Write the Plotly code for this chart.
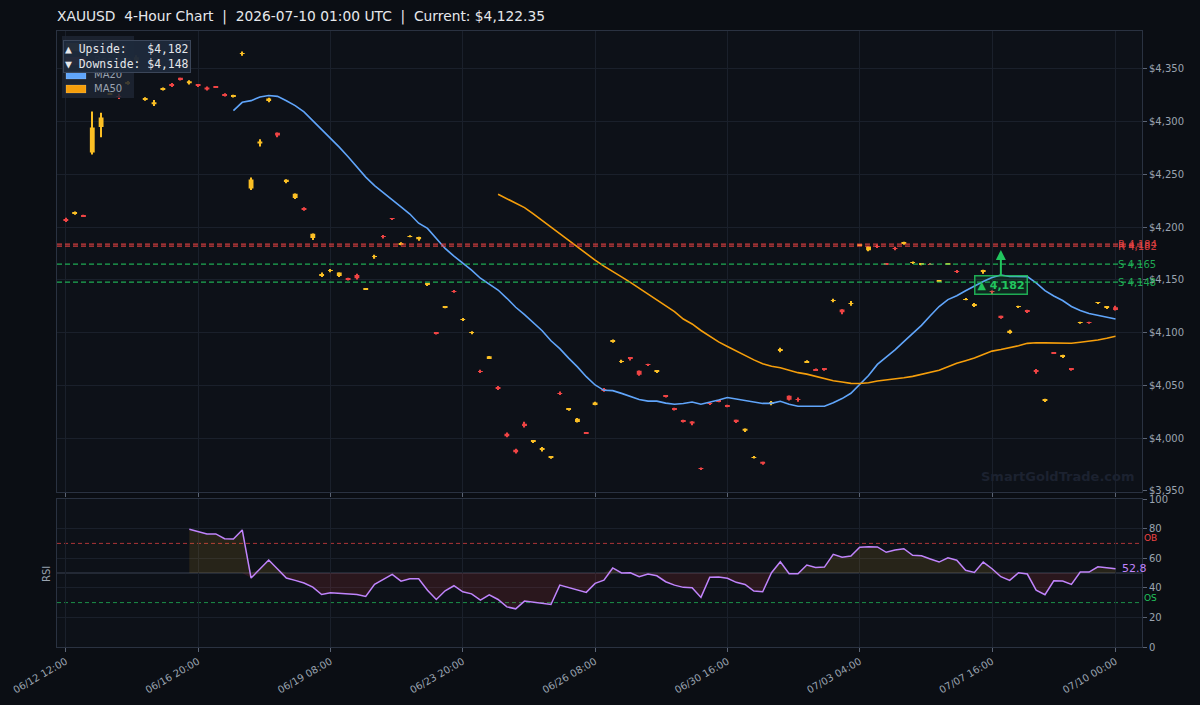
import pandas as pd
import plotly.graph_objects as go

# ---------------- data ----------------
opens = [4207.5, 4212.9, 4211.5, 4270.8, 4295, 4326, 4324.2, 4336.6, 4358, 4321.5,
         4316.6, 4330.9, 4335.4, 4341.6, 4336.4, 4335, 4332.4, 4333.5, 4325.5, 4324,
         4364.4, 4236.8, 4279.3, 4320.4, 4289.5, 4242.9, 4227.6, 4218, 4189.7, 4154.7,
         4158.8, 4153.8, 4151.8, 4154.8, 4141.4, 4171.9, 4191.1, 4208.1, 4184, 4191.3,
         4188.5, 4145.3, 4099.8, 4124.3, 4139.4, 4112.4, 4099.9, 4063.5, 4076, 4047.7,
         4004.2, 3989, 4013.8, 3996.5, 3989, 3981.5, 4042.7, 4027.4, 4015.4, 4005.1,
         4031.6, 4046.2, 4091.1, 4072.7, 4076.9, 4064, 4070.3, 4063, 4040.8, 4028.6,
         4017.3, 4015.9, 3971.1, 4032.8, 4035.5, 4030.9, 4017.4, 4007, 3981.8, 3977.6,
         4032.5, 4082.7, 4040.3, 4036.6, 4071.8, 4065.5, 4066, 4130.4, 4122.1, 4127.6,
         4182.8, 4178.1, 4182.1, 4165.5, 4179.8, 4184.3, 4166.4, 4164.8, 4165, 4149,
         4164.6, 4158.1, 4131.7, 4126.2, 4157.7, 4139, 4116, 4100.2, 4124.4, 4121.6,
         4063.8, 4035.7, 4081.5, 4076.9, 4065.7, 4109.5, 4109.7, 4128.2, 4123.7, 4124.2]
highs = [4209, 4215, 4211.8, 4309.6, 4308.6, 4327.5, 4326.5, 4338.5, 4363, 4323.2,
         4320.5, 4332.5, 4336.6, 4341.8, 4339.3, 4335.2, 4333.4, 4333.7, 4327, 4325.5,
         4366.5, 4247.2, 4283.3, 4322.7, 4289.7, 4245.5, 4231.9, 4219, 4194.1, 4157,
         4160.5, 4157.1, 4152, 4156, 4142.5, 4173.8, 4192.7, 4208.8, 4185.8, 4192.4,
         4190.9, 4146.4, 4100.3, 4125.4, 4140.5, 4114, 4101.5, 4065, 4078, 4049.5,
         4005.5, 3990, 4015.6, 3998, 3991.7, 3983, 4044.2, 4028.5, 4019.2, 4006,
         4034.5, 4047.5, 4093.6, 4074.4, 4077.1, 4064.2, 4070.5, 4064.1, 4041, 4028.8,
         4017.5, 4016.1, 3972.2, 4034, 4036, 4031.7, 4017.6, 4009.1, 3983.2, 3977.8,
         4035.2, 4085.8, 4040.5, 4038.5, 4073.8, 4066, 4066.2, 4132.2, 4122.3, 4130,
         4183.6, 4182, 4183.6, 4165.6, 4181.4, 4186.2, 4167.4, 4165.9, 4165.2, 4150,
         4165.4, 4159.5, 4132.8, 4128.2, 4159.8, 4140, 4116.2, 4102.7, 4125.5, 4121.8,
         4065.5, 4037.5, 4081.8, 4079, 4066, 4110.5, 4110.5, 4129.2, 4124.7, 4125.5]
lows = [4205, 4211.8, 4209.8, 4269, 4285.3, 4325.5, 4321.5, 4335, 4356, 4320,
        4314.8, 4329.5, 4333, 4339, 4335.3, 4332.8, 4329.5, 4332, 4323.8, 4323,
        4362.5, 4235.2, 4276.6, 4318.5, 4285.3, 4241.7, 4226.8, 4215.5, 4188, 4152.8,
        4157.3, 4152.8, 4149.6, 4150.5, 4140.5, 4170.2, 4189.4, 4207.2, 4182.9, 4190.4,
        4187.2, 4144.6, 4098.3, 4123.2, 4138, 4111, 4098.6, 4061.8, 4075, 4045.7,
        4000.8, 3985.6, 4010.2, 3995.5, 3987.3, 3980.5, 4041, 4026, 4015, 4004,
        4031.2, 4044, 4090.6, 4071.2, 4073.6, 4059.2, 4068.7, 4062.4, 4038.5, 4026.2,
        4014.9, 4012.3, 3969.9, 4031.6, 4034, 4029.4, 4014.4, 4006, 3980.8, 3974.8,
        4031.2, 4081.6, 4035.8, 4034.5, 4071.5, 4063.8, 4063.9, 4128.8, 4117.6, 4125.5,
        4182.6, 4177.3, 4180.3, 4164.9, 4178.1, 4183.5, 4165.6, 4164, 4164.2, 4148.8,
        4164.4, 4156.6, 4130.8, 4124.4, 4155.8, 4136.6, 4113.2, 4099, 4124, 4118.8,
        4061, 4034.3, 4080, 4076, 4064, 4108.6, 4108.6, 4127.4, 4122.9, 4121]
closes = [4206.3, 4213.9, 4210.6, 4294.5, 4304, 4327, 4324, 4336.8, 4361, 4321.7,
          4318.5, 4331.1, 4334.5, 4340, 4338.3, 4334.2, 4330.5, 4332.6, 4325.3, 4325,
          4364.6, 4245.3, 4281.3, 4322, 4287, 4244.9, 4231.7, 4216.5, 4193.9, 4154.9,
          4159, 4157, 4150.9, 4151.6, 4142.3, 4172.1, 4190.9, 4207.9, 4185, 4191.5,
          4190.7, 4146.2, 4098.9, 4125.2, 4139.2, 4112.6, 4100.1, 4063.3, 4077.8, 4047.5,
          4001.8, 3986.8, 4011.5, 3997.6, 3990.2, 3982.5, 4042.5, 4028.3, 4018.5, 4004.9,
          4033.8, 4045.2, 4093, 4072.9, 4075, 4060.1, 4069.5, 4063.9, 4039.9, 4026.8,
          4015.5, 4014, 3970.9, 4032.6, 4034.6, 4030, 4015.4, 4008.9, 3982, 3975.7,
          4034.3, 4084.6, 4036.5, 4036.4, 4073.3, 4064.3, 4065.2, 4130.6, 4119.5, 4127.8,
          4183.4, 4181.8, 4181.9, 4165, 4179.6, 4185.8, 4166.6, 4165.7, 4164.4, 4149.8,
          4165.2, 4157.9, 4131.9, 4126.4, 4158.6, 4138.6, 4114.2, 4101.9, 4125.3, 4120.2,
          4062.8, 4036.8, 4080.6, 4078.8, 4064.9, 4109.7, 4109.5, 4129, 4124.5, 4122.35]

rsi_values = [None] * 14 + [
    79.6, 78.0, 76.4, 76.4, 73.2, 73.0, 79.1,
    46.6, 52.7, 58.8, 52.7, 46.6, 45.0, 43.2, 40.5, 35.5, 36.6,
    36.2, 35.5, 35.5, 34.2, 42.3, 45.7, 49.1, 44.5, 46.1, 46.1,
    38.4, 32.1, 38.0, 41.4, 37.3, 35.9, 31.7, 35.3, 32.1, 27.1,
    25.8, 31.0, 30.1, 29.4, 28.7, 41.8, 40.3, 38.4, 36.9, 43.0,
    45.2, 53.4, 50.0, 50.2, 47.5, 49.3, 48.1, 44.1, 41.8, 40.3,
    40.0, 33.5, 47.1, 47.3, 46.4, 43.7, 42.3, 37.8, 37.3, 50.2,
    57.6, 49.5, 49.5, 55.4, 53.8, 54.0, 62.6, 60.6, 61.5, 67.4,
    67.8, 67.6, 64.0, 65.6, 66.4, 62.0, 61.7, 59.5, 57.4, 60.3,
    58.6, 51.8, 50.4, 57.4, 52.9, 47.5, 45.0, 50.2, 49.3, 38.4,
    35.3, 44.7, 44.6, 42.3, 50.6, 50.6, 54.2, 53.6, 52.8]

tick_index = [0, 15, 30, 45, 60, 75, 90, 105, 119]
tick_labels = ["06/12 12:00", "06/16 20:00", "06/19 08:00", "06/23 20:00", "06/26 08:00",
               "06/30 16:00", "07/03 04:00", "07/07 16:00", "07/10 00:00"]

levels = [4184, 4182, 4165, 4148]
level_kinds = ["R", "R", "S", "S"]
upside_target = 4182
downside_target = 4148
current_price = 4122.35
ob_level, os_level, mid_level = 70, 30, 50
legend_names = ["Bullish", "Bearish", "MA20", "MA50"]

# ---------------- styling ----------------
BG = "#0b0e14"
PLOT_BG = "#0d1118"
GRID = "#1a202b"
SPINE = "#2a3241"
TXT = "#9aa3b0"
BULL = "#fbbf24"
BEAR = "#ef4444"
MA20_C = "#60a5fa"
MA50_C = "#f59e0b"
RSI_C = "#c084fc"
FONT = "DejaVu Sans"
W, H = 1200, 705
ML, MR, MT, MB = 57, 58, 31, 58
PW, PH = W - ML - MR, H - MT - MB


def px_x(px):
    return (px - ML) / PW


def px_y(py):
    return (H - MB - py) / PH


idx = list(range(len(closes)))
close_s = pd.Series(closes)
ma20 = close_s.rolling(20).mean()
ma50 = close_s.rolling(50).mean()

up = [i for i in idx if closes[i] >= opens[i]]
dn = [i for i in idx if closes[i] < opens[i]]

fig = go.Figure()

for sel, col, name in [(up, BULL, "Bullish"), (dn, BEAR, "Bearish")]:
    fig.add_trace(go.Bar(
        x=sel, y=[highs[i] - lows[i] for i in sel], base=[lows[i] for i in sel],
        width=0.13, marker=dict(color=col, line=dict(width=0)),
        showlegend=False, hoverinfo="skip", xaxis="x", yaxis="y"))
for sel, col, name in [(up, BULL, "Bullish"), (dn, BEAR, "Bearish")]:
    fig.add_trace(go.Bar(
        x=sel, y=[abs(closes[i] - opens[i]) for i in sel],
        base=[min(opens[i], closes[i]) for i in sel],
        width=0.55, marker=dict(color=col, line=dict(width=0)),
        name=name, showlegend=False, xaxis="x", yaxis="y"))

fig.add_trace(go.Scatter(x=idx, y=ma20, mode="lines", name="MA20", showlegend=False,
                         line=dict(color=MA20_C, width=1.6), xaxis="x", yaxis="y"))
fig.add_trace(go.Scatter(x=idx, y=ma50, mode="lines", name="MA50", showlegend=False,
                         line=dict(color=MA50_C, width=1.6), xaxis="x", yaxis="y"))

# RSI fills
r_idx = [i for i in idx if rsi_values[i] is not None]
r_vals = [rsi_values[i] for i in r_idx]
base_line = [mid_level] * len(r_idx)
upper = [max(v, mid_level) for v in r_vals]
lower = [min(v, mid_level) for v in r_vals]
fig.add_trace(go.Scatter(x=r_idx, y=base_line, mode="lines", line=dict(width=0),
                         showlegend=False, hoverinfo="skip", xaxis="x2", yaxis="y2"))
fig.add_trace(go.Scatter(x=r_idx, y=upper, mode="lines", line=dict(width=0),
                         fill="tonexty", fillcolor="rgba(251,191,36,0.11)",
                         showlegend=False, hoverinfo="skip", xaxis="x2", yaxis="y2"))
fig.add_trace(go.Scatter(x=r_idx, y=base_line, mode="lines", line=dict(width=0),
                         showlegend=False, hoverinfo="skip", xaxis="x2", yaxis="y2"))
fig.add_trace(go.Scatter(x=r_idx, y=lower, mode="lines", line=dict(width=0),
                         fill="tonexty", fillcolor="rgba(239,68,68,0.13)",
                         showlegend=False, hoverinfo="skip", xaxis="x2", yaxis="y2"))
fig.add_trace(go.Scatter(x=r_idx, y=r_vals, mode="lines", name="RSI",
                         line=dict(color=RSI_C, width=1.5), showlegend=False,
                         xaxis="x2", yaxis="y2"))

shapes = []
annotations = []
for lvl, kind in zip(levels, level_kinds):
    col = "rgba(239,68,68,0.85)" if kind == "R" else "rgba(34,197,94,0.85)"
    shapes.append(dict(type="line", xref="x domain", x0=0, x1=1, yref="y", y0=lvl, y1=lvl,
                       line=dict(color=col, width=1.3, dash="5px,3px")))
    annotations.append(dict(x=119.1, y=lvl, xref="x", yref="y", text=f"{kind} {lvl:,}",
                            showarrow=False, xanchor="left", yanchor="middle",
                            font=dict(family=FONT, size=10, color=col)))

for lvl, col, dash, w in [(ob_level, "rgba(239,68,68,0.7)", "4px,3px", 1),
                          (os_level, "rgba(34,197,94,0.7)", "4px,3px", 1),
                          (mid_level, "#3a4252", "solid", 1)]:
    shapes.append(dict(type="line", xref="x2 domain", x0=0, x1=1, yref="y2", y0=lvl, y1=lvl,
                       line=dict(color=col, width=w, dash=dash), layer="below"))

# legend box (drawn as shapes + text, matching the compact reference legend)
shapes.append(dict(type="rect", xref="paper", yref="paper",
                   x0=px_x(62), x1=px_x(134), y0=px_y(98), y1=px_y(36),
                   fillcolor="rgba(30,38,52,0.85)", line=dict(width=0)))
legend_colors = [BULL, BEAR, MA20_C, MA50_C]
for k, (nm, col) in enumerate(zip(legend_names, legend_colors)):
    yc = 47 + 14 * k
    shapes.append(dict(type="rect", xref="paper", yref="paper",
                       x0=px_x(66), x1=px_x(86), y0=px_y(yc + 4), y1=px_y(yc - 4),
                       fillcolor=col, line=dict(color="rgba(255,255,255,0.25)", width=0.6)))
    annotations.append(dict(xref="paper", yref="paper", x=px_x(92), y=px_y(yc), text=nm,
                            showarrow=False, xanchor="left", yanchor="middle",
                            font=dict(family=FONT, size=10, color=TXT)))

annotations += [
    dict(xref="paper", yref="y2", x=1.0, y=ob_level, text="OB", showarrow=False,
         xanchor="left", yanchor="bottom", yshift=-2,
         font=dict(family=FONT, size=9, color="#ef4444")),
    dict(xref="paper", yref="y2", x=1.0, y=os_level, text="OS", showarrow=False,
         xanchor="left", yanchor="bottom", yshift=-2,
         font=dict(family=FONT, size=9, color="#22c55e")),
    dict(xref="x2", yref="y2", x=idx[-1], y=r_vals[-1], text=f"{r_vals[-1]:.1f}",
         showarrow=False, xanchor="left", yanchor="middle", xshift=4,
         font=dict(family=FONT, size=11, color=RSI_C)),
    dict(xref="paper", yref="paper", x=px_x(46), y=px_y(574), text="RSI", showarrow=False,
         textangle=-90, xanchor="center", yanchor="middle",
         font=dict(family=FONT, size=10, color=TXT)),
    dict(xref="paper", yref="paper", x=px_x(1058), y=px_y(476), text="SmartGoldTrade.com",
         showarrow=False, xanchor="center", yanchor="middle",
         font=dict(family=FONT, size=13, color="#1c2230", weight="bold")),
    dict(xref="x", yref="y", x=106, y=4178.5, ax=0, ay=35, text=f"▲ {upside_target:,}",
         showarrow=True, arrowhead=2, arrowsize=1, arrowwidth=2, arrowcolor="#22c55e",
         bgcolor="rgba(34,197,94,0.13)", bordercolor="rgba(34,197,94,0.85)",
         borderwidth=1.5, borderpad=2,
         font=dict(family=FONT, size=11, color="#22c55e", weight="bold")),
    dict(xref="paper", yref="paper", x=px_x(63), y=px_y(40), xanchor="left", yanchor="top",
         text=f"▲ Upside:\u00a0\u00a0\u00a0${upside_target:,}<br>▼ Downside:\u00a0${downside_target:,}",
         showarrow=False, align="left", bgcolor="rgba(30,41,59,0.97)",
         bordercolor="#3b4659", borderwidth=1, borderpad=1,
         font=dict(family="DejaVu Sans Mono", size=11.4, color="#e5e7eb")),
]

axis_common = dict(showgrid=True, gridcolor=GRID, gridwidth=1, zeroline=False,
                   showline=True, mirror=True, linecolor=SPINE, linewidth=1,
                   ticks="outside", ticklen=4, tickcolor="#5b6475",
                   tickfont=dict(family=FONT, size=10, color=TXT), automargin=False)

fig.update_layout(
    width=W, height=H,
    margin=dict(l=ML, r=MR, t=MT, b=MB),
    paper_bgcolor=BG, plot_bgcolor=PLOT_BG,
    barmode="overlay",
    showlegend=False,
    title=dict(text=("XAUUSD\u00a0\u00a04-Hour Chart\u00a0\u00a0|\u00a0\u00a02026-07-10 01:00 UTC"
                     f"\u00a0\u00a0|\u00a0\u00a0Current: ${current_price:,.2f}"),
               x=ML / W, xanchor="left", y=1 - 16 / H, yanchor="middle",
               font=dict(family=FONT, size=13.8, color="#e6e8ec")),
    xaxis=dict(domain=[0, 1], range=[-1, 122], anchor="y", tickvals=tick_index,
               ticktext=tick_labels, showticklabels=False, **axis_common),
    yaxis=dict(domain=[px_y(491.7), 1], range=[3949.3, 4386], side="right", anchor="x",
               dtick=50, tickprefix="$", tickformat=",.0f", **axis_common),
    xaxis2=dict(domain=[0, 1], range=[-1, 122], anchor="y2", matches="x",
                tickvals=tick_index, ticktext=tick_labels, tickangle=-30, **axis_common),
    yaxis2=dict(domain=[0, px_y(499)], range=[0, 100], side="right", anchor="x2",
                tickvals=[0, 20, 40, 60, 80, 100], **axis_common),
    shapes=shapes, annotations=annotations,
    font=dict(family=FONT, color=TXT),
)

fig.write_html("out.html")
